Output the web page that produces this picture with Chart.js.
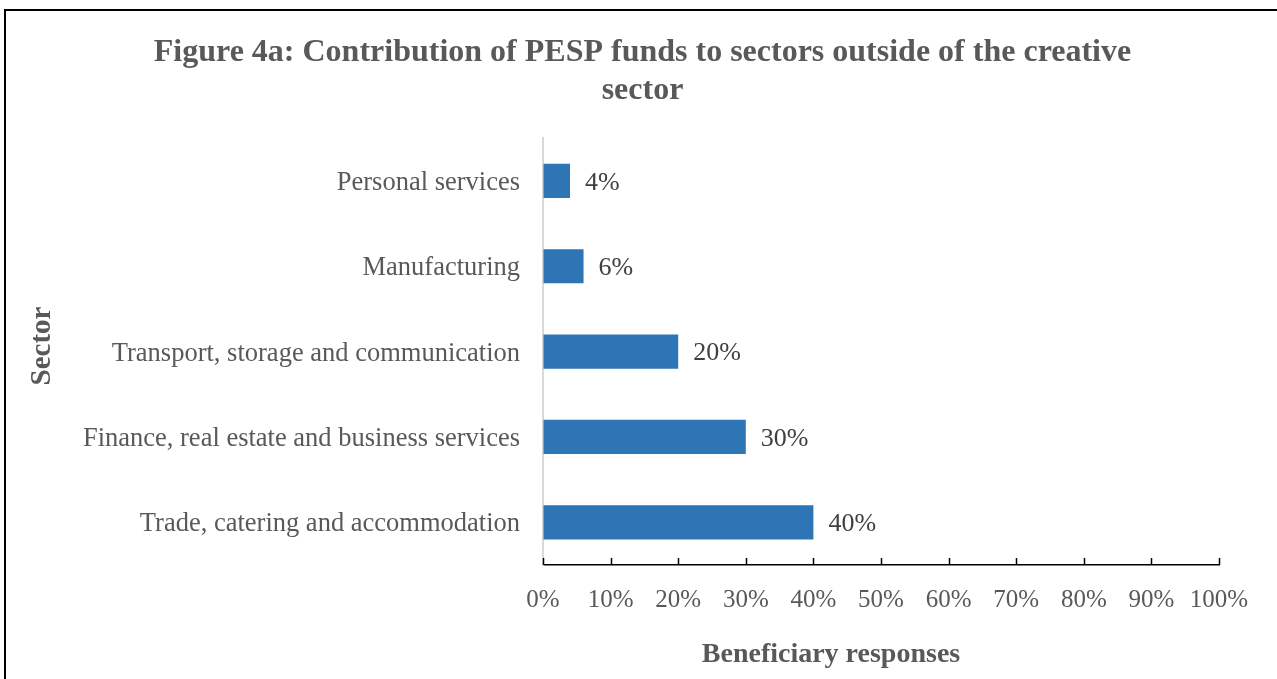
<!DOCTYPE html>
<html>
<head>
<meta charset="utf-8">
<script src="https://cdn.jsdelivr.net/npm/chart.js@4.4.1/dist/chart.umd.min.js"></script>
<style>
    html, body { margin: 0; padding: 0; background: #fff; overflow: hidden; }
    #frame {
        position: absolute; left: 4px; top: 9px;
        width: 1400px; height: 800px;
        border: 2px solid #000;
    }
    #chart-box { position: absolute; left: 0; top: 0; width: 1277px; height: 679px; }
</style>
</head>
<body>
<div id="frame"></div>
<div id="chart-box"><canvas id="chart"></canvas></div>
<script>
// Chart data
const sectors = [
    'Personal services',
    'Manufacturing',
    'Transport, storage and communication',
    'Finance, real estate and business services',
    'Trade, catering and accommodation'
];
const shares = [4, 6, 20, 30, 40];
const xTicks = [0, 10, 20, 30, 40, 50, 60, 70, 80, 90, 100];

const titleLines = ['Figure 4a: Contribution of PESP funds to sectors outside of the creative', 'sector'];
const xTitle = 'Beneficiary responses';
const yTitle = 'Sector';

const serif = "'Liberation Serif', 'Times New Roman', serif";
const grey = '#595959';

// Draws the value labels, the inward tick marks and both axis titles
const extras = {
    id: 'extras',
    afterDatasetsDraw(chart) {
        const ctx = chart.ctx;
        const x = chart.scales.x;
        const area = chart.chartArea;
        ctx.save();

        // tick marks pointing up from the axis line
        ctx.strokeStyle = '#000';
        ctx.lineWidth = 1.5;
        xTicks.forEach(v => {
            const px = Math.round(x.getPixelForValue(v)) + 0.5;
            ctx.beginPath();
            ctx.moveTo(px, area.bottom);
            ctx.lineTo(px, area.bottom - 7);
            ctx.stroke();
        });

        // value labels
        ctx.font = '26px ' + serif;
        ctx.fillStyle = '#404040';
        ctx.textBaseline = 'middle';
        ctx.textAlign = 'left';
        const meta = chart.getDatasetMeta(0);
        meta.data.forEach((bar, i) => {
            ctx.fillText(shares[i] + '%', bar.x + 15, bar.y + 2);
        });

        // axis titles
        ctx.font = 'bold 28px ' + serif;
        ctx.fillStyle = grey;
        ctx.textAlign = 'center';
        ctx.fillText(xTitle, 831, 655);
        ctx.font = 'bold 29px ' + serif;
        ctx.translate(43, 346);
        ctx.rotate(-Math.PI / 2);
        ctx.fillText(yTitle, 0, 0);
        ctx.restore();
    }
};

function initChart() {
    const ctx = document.getElementById('chart').getContext('2d');
    new Chart(ctx, {
        type: 'bar',
        data: {
            labels: sectors,
            datasets: [{
                data: shares,
                backgroundColor: '#2E75B6',
                borderWidth: 0,
                barPercentage: 0.4,
                categoryPercentage: 1.0
            }]
        },
        plugins: [extras],
        options: {
            indexAxis: 'y',
            responsive: false,
            animation: false,
            layout: { padding: { left: 66, right: 58, top: 0, bottom: 0 } },
            plugins: {
                legend: { display: false },
                tooltip: { enabled: false },
                title: {
                    display: true,
                    text: titleLines,
                    color: grey,
                    font: { family: serif, size: 32, weight: 'bold', lineHeight: 1.19 },
                    padding: { top: 34, bottom: 28 }
                }
            },
            scales: {
                x: {
                    min: 0,
                    max: 100,
                    afterBuildTicks(scale) {
                        scale.ticks = xTicks.map(v => ({ value: v }));
                    },
                    afterFit(scale) { scale.height = 114; },
                    grid: { display: true, drawOnChartArea: false, drawTicks: false },
                    border: { display: true, color: '#000', width: 1.5 },
                    ticks: {
                        padding: 20,
                        color: grey,
                        font: { family: serif, size: 25 },
                        callback: v => v + '%'
                    }
                },
                y: {
                    afterFit(scale) { scale.width = 477; },
                    grid: { display: false, drawTicks: false },
                    border: { display: true, color: '#d9d9d9', width: 2 },
                    ticks: {
                        padding: 23,
                        labelOffset: 2,
                        color: grey,
                        font: { family: serif, size: 26.5 }
                    }
                }
            }
        }
    });
}

document.getElementById('chart').width = 1277;
document.getElementById('chart').height = 679;
initChart();
</script>
</body>
</html>
